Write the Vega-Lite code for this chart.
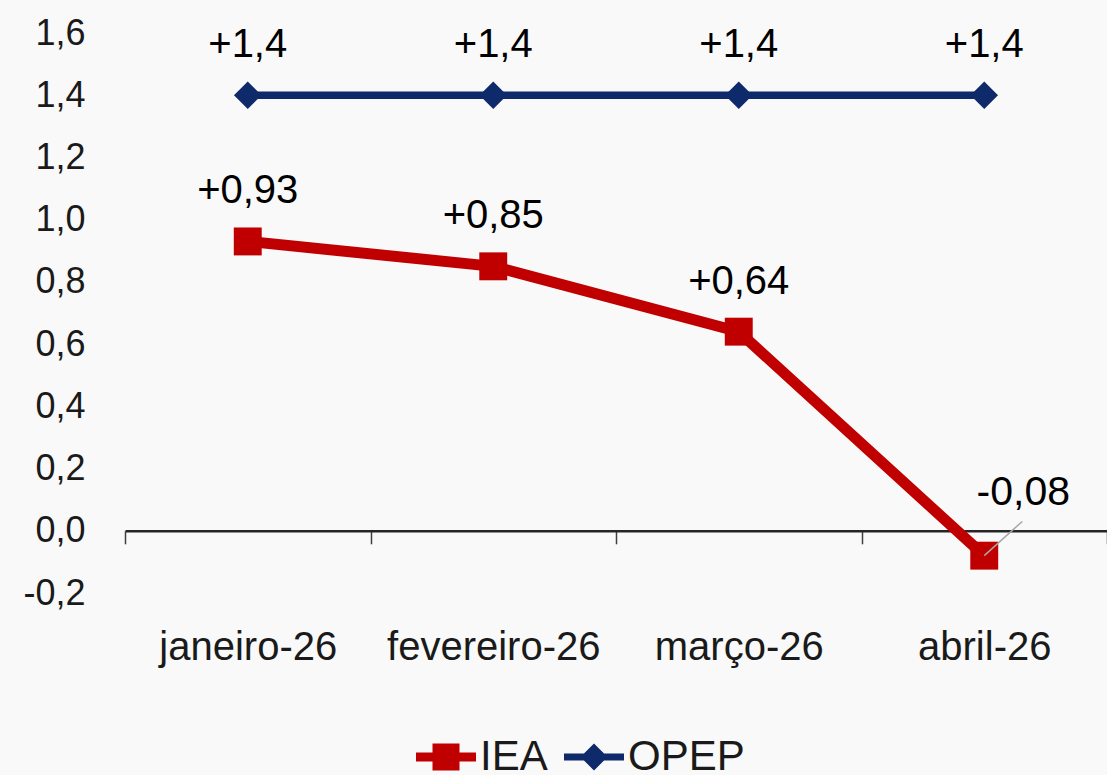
{
  "$schema": "https://vega.github.io/schema/vega-lite/v6.json",
  "width": 982,
  "height": 560,
  "autosize": {"type": "none"},
  "padding": {"left": 125, "top": 33, "right": 0, "bottom": 182},
  "background": "#f9f9f9",
  "config": {
    "view": {"stroke": null},
    "font": "Liberation Sans",
    "text": {"font": "Liberation Sans"}
  },
  "data": {
    "values": [
      {"month": "janeiro-26", "series": "IEA", "value": 0.93, "label": "+0,93"},
      {"month": "fevereiro-26", "series": "IEA", "value": 0.85, "label": "+0,85"},
      {"month": "março-26", "series": "IEA", "value": 0.64, "label": "+0,64"},
      {"month": "abril-26", "series": "IEA", "value": -0.08, "label": "-0,08"},
      {"month": "janeiro-26", "series": "OPEP", "value": 1.4, "label": "+1,4"},
      {"month": "fevereiro-26", "series": "OPEP", "value": 1.4, "label": "+1,4"},
      {"month": "março-26", "series": "OPEP", "value": 1.4, "label": "+1,4"},
      {"month": "abril-26", "series": "OPEP", "value": 1.4, "label": "+1,4"}
    ]
  },
  "encoding": {
    "x": {
      "field": "month",
      "type": "nominal",
      "bandPosition": 0.5,
      "scale": {"type": "band", "domain": ["janeiro-26", "fevereiro-26", "março-26", "abril-26"], "paddingInner": 0, "paddingOuter": 0},
      "axis": {
        "title": null,
        "orient": "bottom",
        "offset": -62.2,
        "domain": true,
        "domainColor": "#262626",
        "domainWidth": 2.5,
        "ticks": true,
        "tickBand": "extent",
        "tickSize": 13,
        "tickColor": "#404040",
        "tickWidth": 1.5,
        "labelFontSize": 40,
        "labelLimit": 400,
        "labelColor": "#1a1a1a",
        "labelPadding": 84,
        "labelAngle": 0,
        "grid": false
      }
    },
    "y": {
      "field": "value",
      "type": "quantitative",
      "scale": {"domain": [-0.2, 1.6], "nice": false, "zero": false},
      "axis": {
        "title": null,
        "values": [-0.2, 0, 0.2, 0.4, 0.6, 0.8, 1.0, 1.2, 1.4, 1.6],
        "labelExpr": "replace(replace(format(datum.value, '.1f'), '.', ','), '−', '-')",
        "domain": false,
        "ticks": false,
        "grid": false,
        "labelFontSize": 36,
        "labelColor": "#1a1a1a",
        "labelPadding": 40
      }
    }
  },
  "layer": [
    {
      "transform": [{"filter": "datum.series === 'OPEP'"}],
      "mark": {"type": "line", "color": "#0E2A6B", "strokeWidth": 7.5},
      "encoding": {}
    },
    {
      "transform": [{"filter": "datum.series === 'IEA'"}],
      "mark": {"type": "line", "color": "#C00000", "strokeWidth": 11},
      "encoding": {}
    },
    {
      "transform": [{"filter": "datum.series === 'OPEP'"}],
      "mark": {"type": "point", "filled": true, "opacity": 1, "shape": "diamond", "size": 760, "color": "#0E2A6B"},
      "encoding": {}
    },
    {
      "transform": [{"filter": "datum.series === 'IEA'"}],
      "mark": {"type": "point", "filled": true, "opacity": 1, "shape": "square", "size": 780, "color": "#C00000"},
      "encoding": {}
    },
    {
      "transform": [{"filter": "datum.month !== 'abril-26' || datum.series === 'OPEP'"}],
      "mark": {"type": "text", "dy": -50, "baseline": "middle", "align": "center", "fontSize": 40, "color": "#000000"},
      "encoding": {"text": {"field": "label"}}
    },
    {
      "transform": [{"filter": "datum.month === 'abril-26' && datum.series === 'IEA'"}],
      "mark": {"type": "rule", "color": "#a6a6a6", "strokeWidth": 1.5, "x2Offset": 38},
      "encoding": {
        "x2": {"field": "month"},
        "y2": {"datum": 0.03}
      }
    },
    {
      "transform": [{"filter": "datum.month === 'abril-26' && datum.series === 'IEA'"}],
      "mark": {"type": "text", "dx": 39, "dy": -63, "baseline": "middle", "align": "center", "fontSize": 41, "color": "#000000"},
      "encoding": {"text": {"field": "label"}}
    },
    {
      "transform": [{"filter": "datum.value > 100"}],
      "mark": {"type": "point", "filled": true, "opacity": 1},
      "encoding": {
        "color": {
          "field": "series",
          "type": "nominal",
          "scale": {"domain": ["IEA", "OPEP"], "range": ["#C00000", "#0E2A6B"]},
          "legend": {
            "orient": "none",
            "legendX": 300,
            "legendY": 703,
            "direction": "horizontal",
            "title": null,
            "padding": 0,
            "labelFontSize": 42,
            "labelColor": "#1a1a1a",
            "labelOffset": 13,
            "columnPadding": 16,
            "symbolSize": 900,
            "symbolStrokeWidth": 0,
            "symbolOpacity": 1
          }
        },
        "shape": {
          "field": "series",
          "type": "nominal",
          "scale": {"domain": ["IEA", "OPEP"], "range": ["M-2,-0.3H-0.9V-0.9H0.9V-0.3H2V0.3H0.9V0.9H-0.9V0.3H-2Z", "M-2,-0.23H-0.67L0,-0.9L0.67,-0.23H2V0.23H0.67L0,0.9L-0.67,0.23H-2Z"]},
          "legend": {
            "orient": "none",
            "legendX": 300,
            "legendY": 703,
            "direction": "horizontal",
            "title": null,
            "padding": 0,
            "labelFontSize": 42,
            "labelColor": "#1a1a1a",
            "labelOffset": 13,
            "columnPadding": 16,
            "symbolSize": 900,
            "symbolStrokeWidth": 0,
            "symbolOpacity": 1
          }
        }
      }
    }
  ]
}
